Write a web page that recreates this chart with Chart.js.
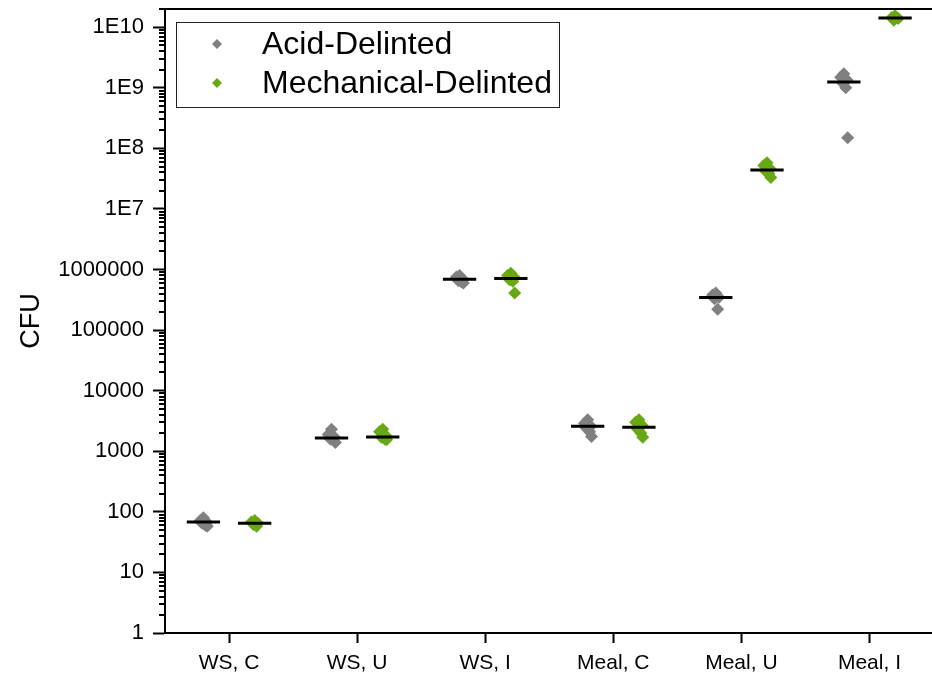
<!DOCTYPE html>
<html>
<head>
<meta charset="utf-8">
<script src="https://cdn.jsdelivr.net/npm/chart.js@4"></script>
<style>
  html, body { margin: 0; padding: 0; overflow: hidden; background: #fff; }
  #wrap { width: 940px; height: 681px; }
</style>
</head>
<body>
<div id="wrap"><canvas id="myChart"></canvas></div>
<script>
// categories along the x axis
const categories = ["WS, C", "WS, U", "WS, I", "Meal, C", "Meal, U", "Meal, I"];

// CFU per replicate
const acidValues = [
    [80, 72, 68, 65, 60, 58],
    [2300, 1900, 1700, 1600, 1500, 1400],
    [800000, 750000, 700000, 650000, 620000, 600000],
    [3300, 2900, 2600, 2400, 2100, 1750],
    [410000, 380000, 350000, 330000, 220000],
    [1.7e9, 1.5e9, 1.35e9, 1.2e9, 1.0e9, 1.5e8],
];
const mechValues = [
    [72, 68, 65, 62, 58],
    [2300, 2100, 1800, 1700, 1600, 1550],
    [870000, 800000, 750000, 680000, 640000, 410000],
    [3300, 3000, 2700, 2300, 2000, 1700],
    [5.8e7, 5.2e7, 4.6e7, 4.2e7, 3.8e7, 3.3e7],
    [1.55e10, 1.45e10, 1.4e10, 1.3e10],
];
const acidMedians = [68, 1650, 690000, 2600, 345000, 1.25e9];
const mechMedians = [65, 1720, 710000, 2500, 4.4e7, 1.42e10];

// small fixed horizontal spread of the replicates
const jitter = [0, -0.025, 0.025, -0.01, 0.015, 0.03];

const yTickLabels = ["1", "10", "100", "1000", "10000", "100000", "1000000", "1E7", "1E8", "1E9", "1E10"];

const gray = "#808080";
const green = "#68a814";
const font = "'Liberation Sans', Arial, sans-serif";

function points(values, offset) {
    const out = [];
    values.forEach((list, i) => {
        list.forEach((v, j) => out.push({ x: i + offset + jitter[j % jitter.length], y: v }));
    });
    return out;
}

function medianSegments(medians, offset) {
    const out = [];
    medians.forEach((m, i) => {
        out.push({ x: i + offset - 0.13, y: m });
        out.push({ x: i + offset + 0.13, y: m });
        out.push({ x: i + offset + 0.13, y: null });
    });
    return out;
}

function isPow10(v) {
    const l = Math.log10(v);
    return Math.abs(l - Math.round(l)) < 1e-9;
}

const frameAndLegend = {
    id: "frameAndLegend",
    afterDraw(chart) {
        const c = chart.ctx;
        const area = chart.chartArea;
        const y = chart.scales.y;

        // top frame line
        c.save();
        c.strokeStyle = "#000";
        c.lineWidth = 2;
        c.beginPath();
        c.moveTo(area.left - 1, area.top);
        c.lineTo(area.right, area.top);
        c.stroke();

        // minor ticks on the log axis
        for (let e = 0; e <= 10; e++) {
            for (let k = 2; k <= 9; k++) {
                const v = k * Math.pow(10, e);
                if (v > y.max) continue;
                const py = Math.round(y.getPixelForValue(v));
                c.beginPath();
                c.moveTo(area.left - 6, py);
                c.lineTo(area.left, py);
                c.stroke();
            }
        }

        // legend box
        c.lineWidth = 1;
        c.strokeStyle = "#222";
        c.strokeRect(176.5, 22.5, 383, 85);
        const items = [chart.data.datasets[0], chart.data.datasets[1]];
        c.font = "32px " + font;
        c.textBaseline = "middle";
        items.forEach((ds, i) => {
            const cy = 44 + i * 39;
            c.fillStyle = ds.backgroundColor;
            c.beginPath();
            c.moveTo(217, cy - 5);
            c.lineTo(222, cy);
            c.lineTo(217, cy + 5);
            c.lineTo(212, cy);
            c.closePath();
            c.fill();
            c.fillStyle = "#000";
            c.fillText(ds.label, 262, cy + 1);
        });
        c.restore();
    },
};

const ctx = document.getElementById("myChart").getContext("2d");

const myChart = new Chart(ctx, {
    type: "scatter",
    data: {
        datasets: [
            {
                label: "Acid-Delinted",
                data: points(acidValues, -0.2),
                backgroundColor: gray,
                borderColor: gray,
                pointStyle: "rectRot",
                pointRadius: 6.5,
                borderWidth: 0,
                clip: false,
                order: 2,
            },
            {
                label: "Mechanical-Delinted",
                data: points(mechValues, 0.2),
                backgroundColor: green,
                borderColor: green,
                pointStyle: "rectRot",
                pointRadius: 6.5,
                borderWidth: 0,
                clip: false,
                order: 1,
            },
            {
                label: "Acid median",
                data: medianSegments(acidMedians, -0.2),
                showLine: true,
                spanGaps: false,
                borderColor: "#000",
                borderWidth: 3,
                pointRadius: 0,
                clip: false,
                order: 0,
            },
            {
                label: "Mechanical median",
                data: medianSegments(mechMedians, 0.2),
                showLine: true,
                spanGaps: false,
                borderColor: "#000",
                borderWidth: 3,
                pointRadius: 0,
                clip: false,
                order: 0,
            },
        ],
    },
    options: {
        responsive: true,
        maintainAspectRatio: false,
        animation: false,
        devicePixelRatio: 1,
        layout: { padding: { left: 0, top: 9, right: 2, bottom: 0 } },
        plugins: {
            legend: { display: false },
            tooltip: { enabled: false },
        },
        scales: {
            x: {
                type: "linear",
                min: -0.5,
                max: 5.5,
                afterBuildTicks: (s) => {
                    s.ticks = categories.map((c, i) => ({ value: i }));
                },
                afterFit: (s) => {
                    s.height = 48;
                    s.paddingLeft = 0;
                    s.paddingRight = 0;
                },
                ticks: {
                    autoSkip: false,
                    maxRotation: 0,
                    padding: 8,
                    color: "#000",
                    font: { family: font, size: 21 },
                    callback: (v) => categories[v],
                },
                grid: {
                    drawOnChartArea: false,
                    tickLength: 10,
                    tickWidth: 2,
                    tickColor: "#000",
                },
                border: { color: "#000", width: 2 },
            },
            y: {
                type: "logarithmic",
                min: 1,
                max: 2e10,
                afterFit: (s) => {
                    s.width = 165;
                    s.paddingTop = 0;
                    s.paddingBottom = 0;
                },
                title: {
                    display: true,
                    text: "CFU",
                    color: "#000",
                    font: { family: font, size: 27 },
                    padding: { top: 15, bottom: 0 },
                },
                ticks: {
                    autoSkip: false,
                    padding: 9,
                    color: "#000",
                    font: { family: font, size: 22 },
                    callback: (v) => (isPow10(v) ? yTickLabels[Math.round(Math.log10(v))] : ""),
                },
                grid: {
                    drawOnChartArea: false,
                    tickLength: 12,
                    tickWidth: 2,
                    tickColor: (c) => (c.tick && isPow10(c.tick.value) ? "#000" : "rgba(0,0,0,0)"),
                },
                border: { color: "#000", width: 2 },
            },
        },
    },
    plugins: [frameAndLegend],
});
</script>
</body>
</html>
